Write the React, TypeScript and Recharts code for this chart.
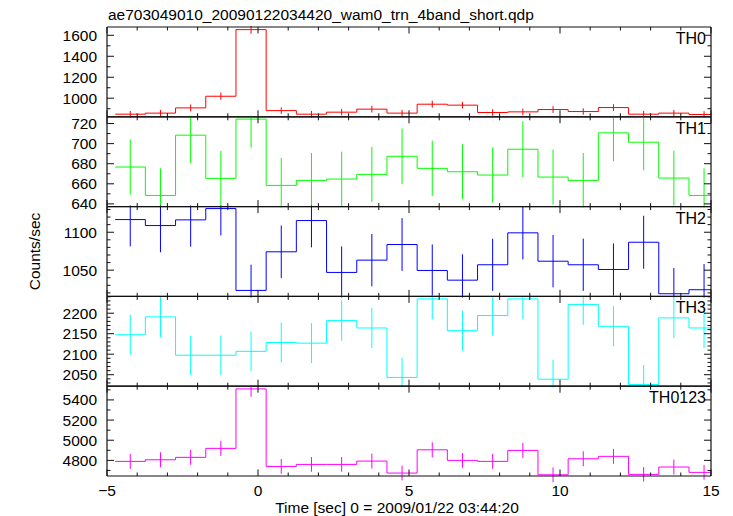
import React from 'react';
import { ComposedChart, Line, Scatter, XAxis, YAxis, ErrorBar } from 'recharts';

// ---------- data ----------
const BIN_CENTERS = [-4.23, -3.23, -2.23, -1.23, -0.23, 0.77, 1.77, 2.77, 3.77, 4.77, 5.77, 6.77, 7.77, 8.77, 9.77, 10.77, 11.77, 12.77, 13.77, 14.77];
const BIN_HALF_WIDTH = 0.5;
const X_TICKS = [-5, -4, -3, -2, -1, 0, 1, 2, 3, 4, 5, 6, 7, 8, 9, 10, 11, 12, 13, 14, 15];
const X_LABELED = [-5, 0, 5, 10, 15];

const TH0_RATE = [848, 858, 908, 1019, 1654, 882, 848, 867, 896, 858, 943, 934, 864, 870, 892, 873, 911, 848, 858, 845];
const TH0_ERR = [31, 31, 32, 35, 40, 31, 31, 31, 32, 31, 33, 32, 31, 31, 32, 31, 32, 31, 31, 31];

const TH1_RATE = [676.7, 648.4, 708.4, 665.4, 724.4, 658.4, 663.4, 664.7, 669.4, 687.4, 675.4, 672, 668.7, 694.4, 666.7, 663.4, 710.7, 701.4, 665.7, 648.4];
const TH1_ERR = [27.5, 27, 28, 27.3, 28.5, 27.2, 27.3, 27.3, 27.4, 27.7, 27.5, 27.4, 27.4, 27.9, 27.3, 27.3, 28.2, 28, 27.3, 27];

const TH2_RATE = [1116.7, 1108.8, 1116.3, 1131.2, 1023.3, 1074.2, 1115.4, 1047, 1063.2, 1083.8, 1049.6, 1036.8, 1057.1, 1099.2, 1061.8, 1057.1, 1050.9, 1086.8, 1018.9, 1024.2];
const TH2_ERR = [35.3, 35.2, 35.3, 35.5, 33.9, 34.7, 35.3, 34.3, 34.5, 34.8, 34.3, 34.1, 34.4, 35.1, 34.5, 34.4, 34.3, 34.9, 33.8, 33.9];

const TH3_RATE = [2147.5, 2191, 2097.5, 2097.5, 2107, 2128.6, 2127, 2182, 2164, 2043.4, 2235, 2157.4, 2194.3, 2235, 2039, 2221.4, 2168, 2026, 2188.6, 2164];
const TH3_ERR = [48.6, 49.1, 48.1, 48.1, 48.3, 48.5, 48.5, 49, 48.8, 47.5, 49.5, 48.7, 49.1, 49.5, 47.5, 49.3, 48.9, 47.3, 49.1, 48.8];

const TH0123_RATE = [4790, 4806, 4830, 4919, 5509, 4740, 4760, 4760, 4793, 4674, 4905, 4800, 4790, 4899, 4657, 4816, 4840, 4661, 4734, 4681];
const TH0123_ERR = [74, 74, 74, 75, 78, 73, 73, 73, 74, 73, 75, 74, 74, 75, 72, 74, 74, 72, 73, 73];

const TH0_MAJOR = [1000, 1200, 1400, 1600];
const TH0_MINOR = [900, 1100, 1300, 1500];
const TH1_MAJOR = [640, 660, 680, 700, 720];
const TH1_MINOR = [650, 670, 690, 710];
const TH2_MAJOR = [1050, 1100];
const TH2_MINOR = [1020, 1030, 1040, 1060, 1070, 1080, 1090, 1110, 1120, 1130];
const TH3_MAJOR = [2050, 2100, 2150, 2200];
const TH3_MINOR = [2030, 2040, 2060, 2070, 2080, 2090, 2110, 2120, 2130, 2140, 2160, 2170, 2180, 2190, 2210, 2220, 2230, 2240];
const TH0123_MAJOR = [4800, 5000, 5200, 5400];
const TH0123_MINOR = [4700, 4900, 5100, 5300, 5500];

const TH0_DOMAIN = [823, 1679];
const TH1_DOMAIN = [637.3, 726.7];
const TH2_DOMAIN = [1015.4, 1133.8];
const TH3_DOMAIN = [2022, 2241];
const TH0123_DOMAIN = [4645, 5536];

const TITLE = 'ae703049010_20090122034420_wam0_trn_4band_short.qdp';
const X_LABEL = 'Time [sec] 0 = 2009/01/22 03:44:20';
const Y_LABEL = 'Counts/sec';

// ---------- layout ----------
const W = 733;
const H = 516;
const PLOT_LEFT = 107;
const PLOT_RIGHT = 711;
const PLOT_TOP = 27;
const PANEL_H = 89.8;
const FONT = '"Liberation Sans", Arial, Helvetica, sans-serif';
const FS = 15.5;
const FRAME = '#111';

const fmt = (v: number) => (v < 0 ? '\u2212' + Math.abs(v) : String(v));

function xTick(side: 'top' | 'bottom', showLabels: boolean) {
  return (p: any) => {
    const x = Number(p.x);
    const y = Number(p.y);
    const v = p.payload.value;
    const major = X_LABELED.includes(v);
    const len = major ? 6.5 : 3.5;
    const dir = side === 'bottom' ? -1 : 1;
    return (
      <g>
        <line x1={x} x2={x} y1={y} y2={y + dir * len} stroke={FRAME} strokeWidth={1} />
        {side === 'bottom' && showLabels && major ? (
          <text x={x} y={y + 20} textAnchor="middle" fontSize={FS} fontFamily={FONT} fill="#000" stroke="none">
            {fmt(v)}
          </text>
        ) : null}
      </g>
    );
  };
}

function yTick(side: 'left' | 'right', majors: number[]) {
  return (p: any) => {
    const x = Number(p.x);
    const y = Number(p.y);
    const v = p.payload.value;
    const major = majors.includes(v);
    const len = major ? 7 : 3.5;
    const dir = side === 'left' ? 1 : -1;
    return (
      <g>
        <line x1={x} x2={x + dir * len} y1={y} y2={y} stroke={FRAME} strokeWidth={1} />
        {side === 'left' && major ? (
          <text x={x - 10} y={y + 5.5} textAnchor="end" fontSize={FS} fontFamily={FONT} fill="#000" stroke="none">
            {fmt(v)}
          </text>
        ) : null}
      </g>
    );
  };
}

type PanelProps = {
  idx: number;
  rates: number[];
  errs: number[];
  color: string;
  domain: number[];
  major: number[];
  minor: number[];
  isLast: boolean;
};

function Panel({ idx, rates, errs, color, domain, major, minor, isLast }: PanelProps) {
  const top = PLOT_TOP + idx * PANEL_H;
  const bottom = top + PANEL_H;
  const last = BIN_CENTERS.length - 1;
  const stepData = [
    ...BIN_CENTERS.map((c, i) => ({ x: c - BIN_HALF_WIDTH, y: rates[i] })),
    { x: BIN_CENTERS[last] + BIN_HALF_WIDTH, y: rates[last] },
  ];
  const pts = BIN_CENTERS.map((c, i) => ({ x: c, y: rates[i], e: errs[i] }));
  const yTicks = [...major, ...minor].sort((a, b) => a - b);
  const axisLine = { stroke: FRAME, strokeWidth: 1.2 };
  // keep the left label margin free, clip the plot band
  const ct = top - 1;
  const cb = isLast ? H : bottom + 1;
  const clip = `polygon(0px 0px, ${PLOT_LEFT - 0.5}px 0px, ${PLOT_LEFT - 0.5}px ${ct}px, ${W}px ${ct}px, ${W}px ${cb}px, ${PLOT_LEFT - 0.5}px ${cb}px, ${PLOT_LEFT - 0.5}px ${H}px, 0px ${H}px)`;
  return (
    <div style={{ position: 'absolute', left: 0, top: 0, width: W, height: H, clipPath: clip }}>
      <ComposedChart
        width={W}
        height={H}
        margin={{ top: top - 1, bottom: H - bottom - 1, left: 0, right: 0 }}
      >
        <XAxis
          xAxisId="b"
          orientation="bottom"
          type="number"
          dataKey="x"
          domain={[-5, 15]}
          ticks={X_TICKS}
          interval={0}
          height={1}
          tickSize={0}
          tickMargin={0}
          tickLine={false}
          allowDataOverflow
          stroke={FRAME}
          axisLine={axisLine}
          tick={xTick('bottom', isLast)}
        />
        <XAxis
          xAxisId="t"
          orientation="top"
          type="number"
          dataKey="x"
          domain={[-5, 15]}
          ticks={X_TICKS}
          interval={0}
          height={1}
          tickSize={0}
          tickMargin={0}
          tickLine={false}
          allowDataOverflow
          stroke={FRAME}
          axisLine={axisLine}
          tick={xTick('top', false)}
        />
        <YAxis
          yAxisId="l"
          orientation="left"
          type="number"
          domain={domain}
          ticks={yTicks}
          interval={0}
          width={PLOT_LEFT}
          tickSize={0}
          tickMargin={0}
          tickLine={false}
          allowDataOverflow
          stroke={FRAME}
          axisLine={axisLine}
          tick={yTick('left', major)}
        />
        <YAxis
          yAxisId="r"
          orientation="right"
          type="number"
          domain={domain}
          ticks={yTicks}
          interval={0}
          width={W - PLOT_RIGHT}
          tickSize={0}
          tickMargin={0}
          tickLine={false}
          allowDataOverflow
          stroke={FRAME}
          axisLine={axisLine}
          tick={yTick('right', major)}
        />
        <Line
          xAxisId="b"
          yAxisId="l"
          data={stepData}
          dataKey="y"
          type="stepAfter"
          stroke={color}
          strokeWidth={1}
          dot={false}
          activeDot={false}
          isAnimationActive={false}
        />
        <Scatter
          xAxisId="b"
          yAxisId="l"
          data={pts}
          dataKey="y"
          fill={color}
          shape={() => <g />}
          isAnimationActive={false}
        >
          <ErrorBar dataKey="e" direction="y" width={0} stroke={color} strokeWidth={1} isAnimationActive={false} />
        </Scatter>
      </ComposedChart>
    </div>
  );
}

const PANELS = [
  { name: 'TH0', rates: TH0_RATE, errs: TH0_ERR, color: '#ff0000', domain: TH0_DOMAIN, major: TH0_MAJOR, minor: TH0_MINOR },
  { name: 'TH1', rates: TH1_RATE, errs: TH1_ERR, color: '#00ff00', domain: TH1_DOMAIN, major: TH1_MAJOR, minor: TH1_MINOR },
  { name: 'TH2', rates: TH2_RATE, errs: TH2_ERR, color: '#0000ff', domain: TH2_DOMAIN, major: TH2_MAJOR, minor: TH2_MINOR },
  { name: 'TH3', rates: TH3_RATE, errs: TH3_ERR, color: '#00ffff', domain: TH3_DOMAIN, major: TH3_MAJOR, minor: TH3_MINOR },
  { name: 'TH0123', rates: TH0123_RATE, errs: TH0123_ERR, color: '#ff00ff', domain: TH0123_DOMAIN, major: TH0123_MAJOR, minor: TH0123_MINOR },
];

export default function App() {
  return (
    <div style={{ position: 'absolute', left: 0, top: 0, width: W, height: H, background: '#fff', overflow: 'hidden' }}>
      {PANELS.map((p, i) => (
        <Panel
          key={p.name}
          idx={i}
          rates={p.rates}
          errs={p.errs}
          color={p.color}
          domain={p.domain}
          major={p.major}
          minor={p.minor}
          isLast={i === PANELS.length - 1}
        />
      ))}
      <svg width={W} height={H} style={{ position: 'absolute', left: 0, top: 0, pointerEvents: 'none' }}>
        <text x={108} y={20} fontSize={FS} fontFamily={FONT} fill="#000">
          {TITLE}
        </text>
        {PANELS.map((p, i) => (
          <text
            key={p.name}
            x={706}
            y={PLOT_TOP + i * PANEL_H + 17}
            textAnchor="end"
            fontSize={16}
            fontFamily={FONT}
            fill="#000"
          >
            {p.name}
          </text>
        ))}
        <text x={397} y={513} textAnchor="middle" fontSize={FS} fontFamily={FONT} fill="#000">
          {X_LABEL}
        </text>
        <text
          x={40}
          y={251.5}
          textAnchor="middle"
          fontSize={FS}
          fontFamily={FONT}
          fill="#000"
          transform="rotate(-90 40 251.5)"
        >
          {Y_LABEL}
        </text>
      </svg>
    </div>
  );
}
